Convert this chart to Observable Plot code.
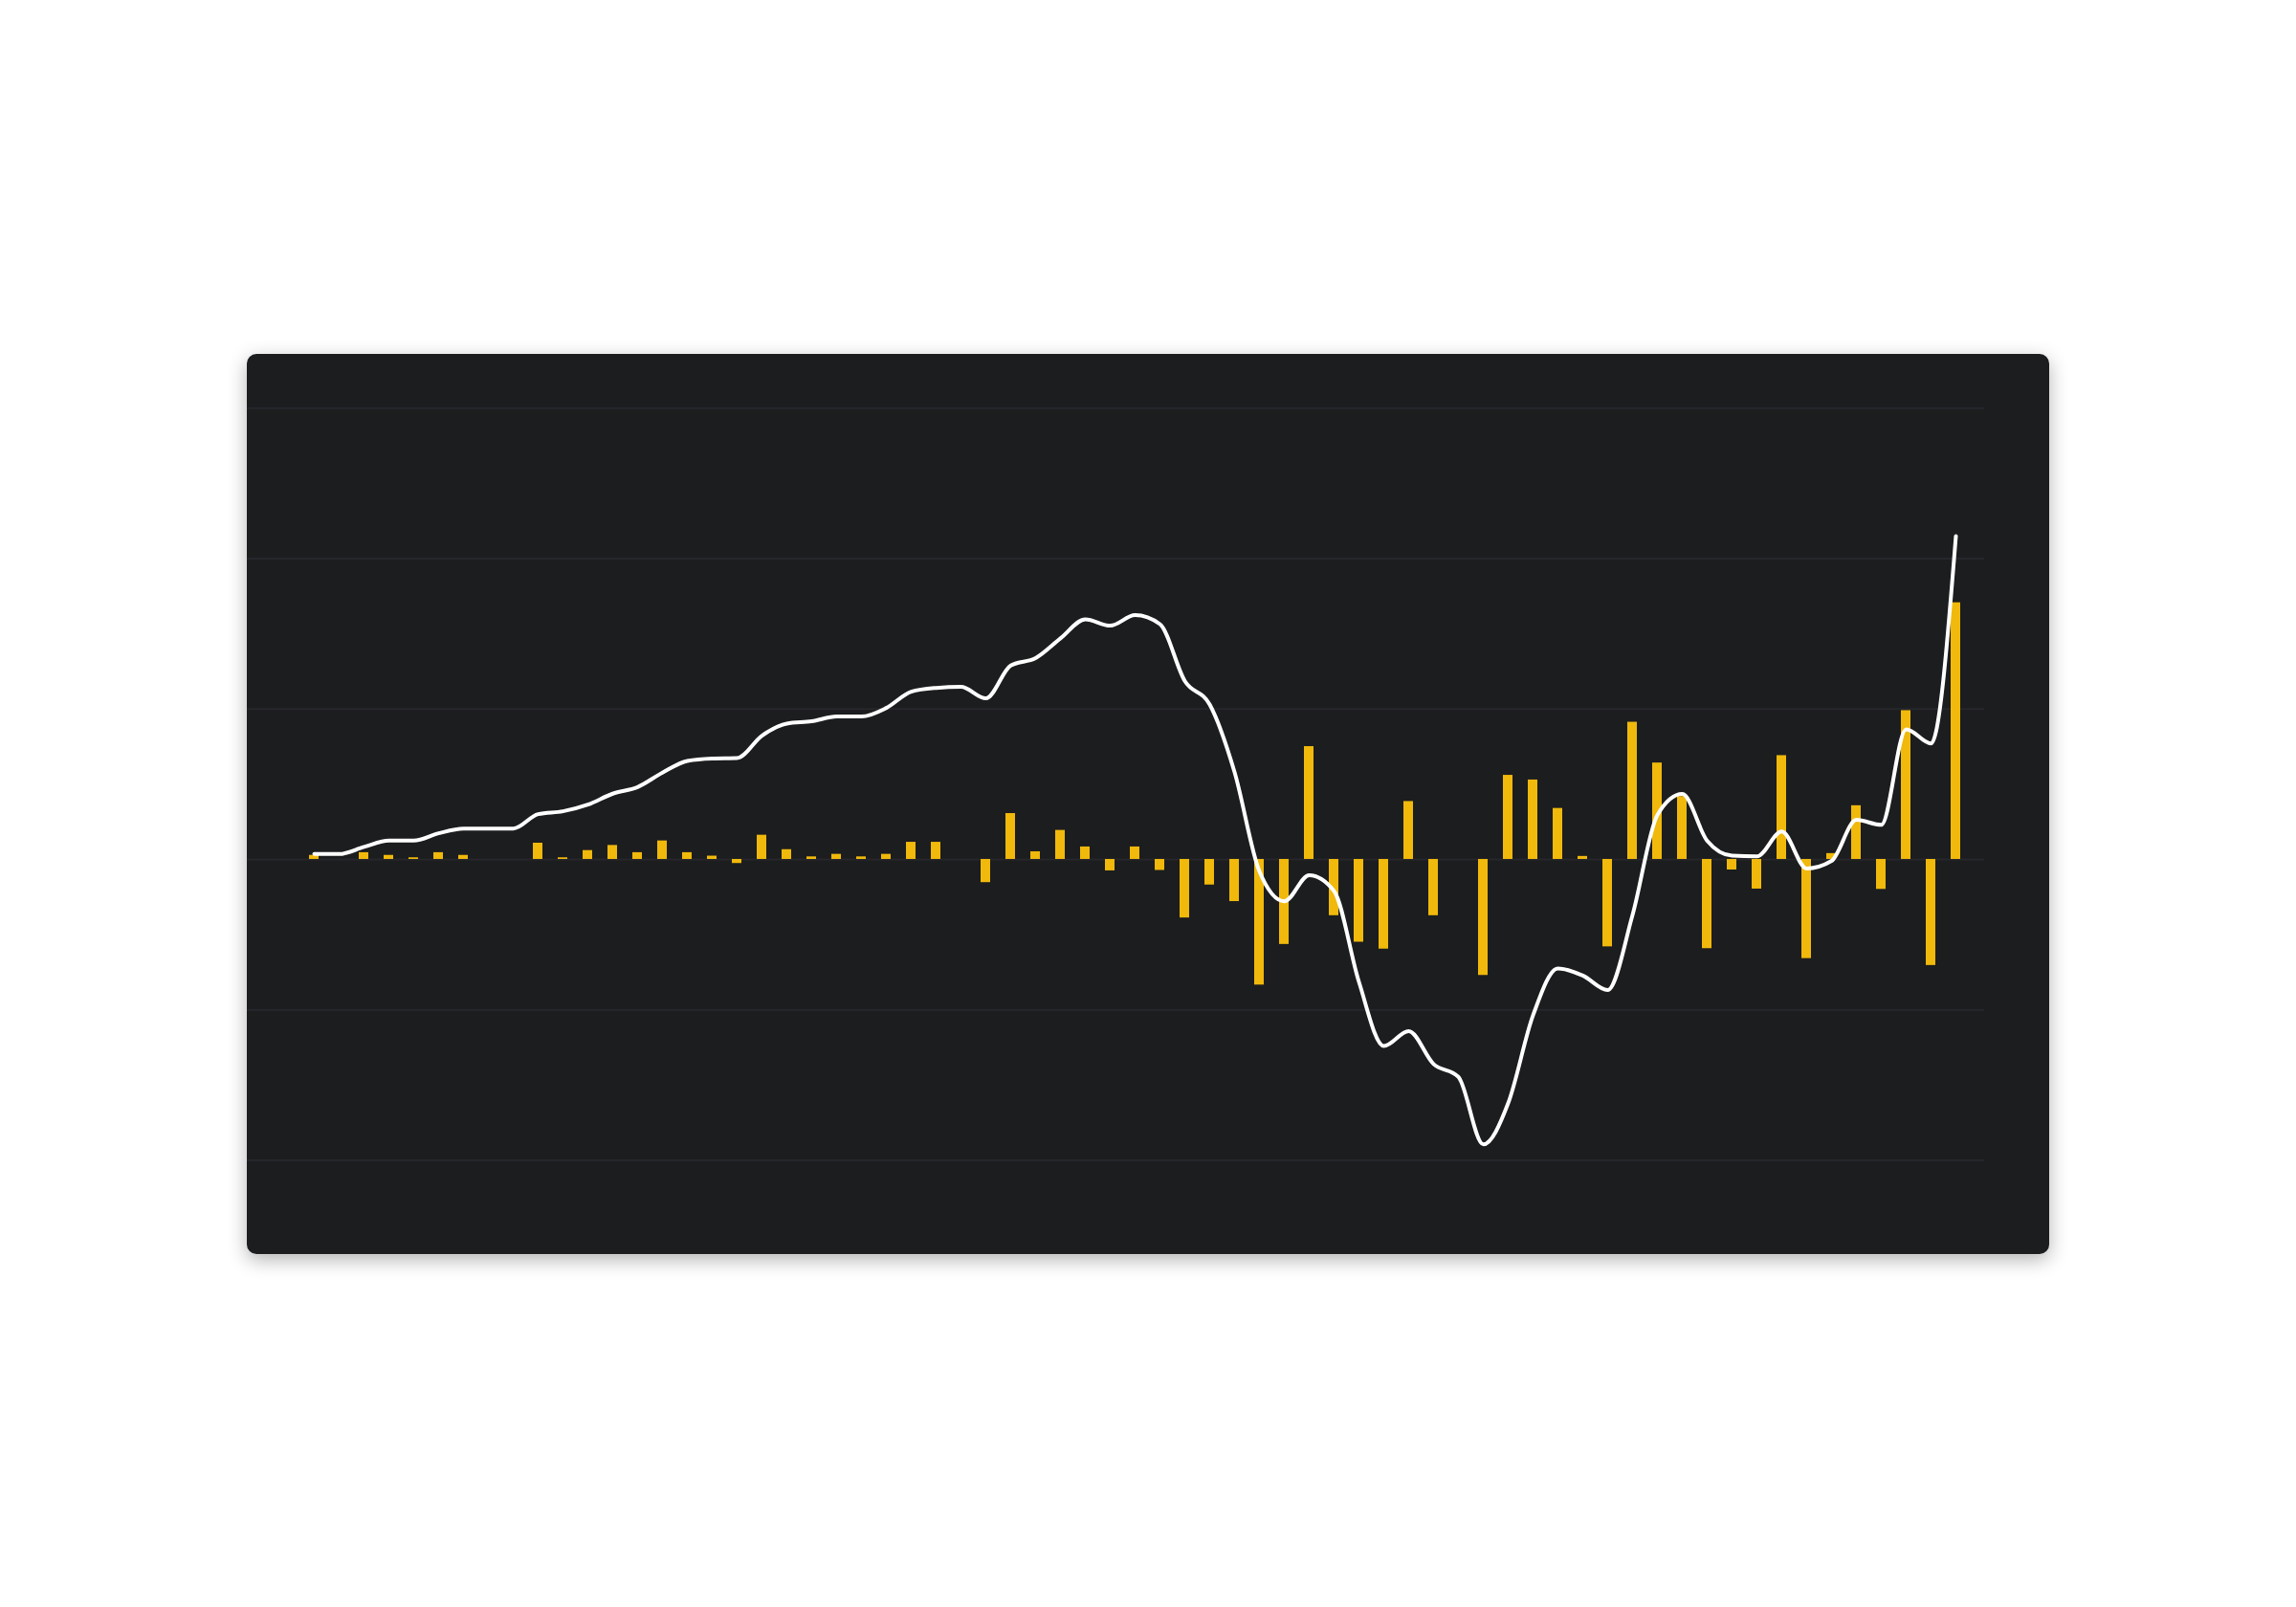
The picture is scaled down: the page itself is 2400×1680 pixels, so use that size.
<!DOCTYPE html>
<html>
<head>
<meta charset="utf-8">
<script src="https://cdn.jsdelivr.net/npm/d3@7"></script>
<script src="https://cdn.jsdelivr.net/npm/@observablehq/plot@0.6"></script>
<style>
  html, body { margin: 0; padding: 0; background: #ffffff; }
  body { width: 100vw; height: 100vh; display: flex; align-items: center; justify-content: center; }
  #chart svg { display: block; }
</style>
</head>
<body>
<div id="chart"></div>
<script>
// Day index (categories)
const days = d3.range(1, 68);

// Daily values (bars)
const daily = [
  2.7, 0, 4.5, 2.7, 1.1, 4.5, 2.7, 0, 0, 10.8,
  1.1, 5.9, 9.3, 4.5, 12.3, 4.5, 2.2, -2.7, 16.1, 6.5,
  1.7, 3.4, 1.7, 3.4, 11.4, 11.4, 0, -15.4, 30.5, 5.1,
  19.3, 8.3, -7.6, 8.3, -7.3, -38.9, -17.0, -28.0, -83.5, -56.5,
  75.0, -37.4, -55.0, -59.6, 38.5, -37.4, 0, -77.1, 55.9, 52.8,
  33.9, 2.0, -58.1, 91.2, 64.1, 41.8, -59.3, -7.0, -19.7, 69.0,
  -65.9, 3.9, 35.7, -19.9, 98.9, -70.5, 170.6
];

// Cumulative values (line)
const cumulative = [
  3.6, 3.6, 8.3, 12.5, 12.5, 17.4, 20.5, 20.5, 20.5, 30.1,
  32.0, 36.4, 43.7, 48.1, 57.7, 65.5, 67.1, 67.4, 82.3, 90.3,
  91.8, 95.0, 95.0, 100.7, 111.5, 114.0, 114.7, 107.1, 128.9, 133.8,
  146.9, 159.6, 155.4, 162.4, 156.4, 118.6, 103.0, 58.0, -8.0, -27.8,
  -10.5, -21.0, -81.4, -124.0, -114.1, -136.0, -144.6, -189.4, -162.0, -103.6,
  -72.5, -77.2, -86.8, -36.9, 29.6, 43.5, 12.4, 2.5, 2.0, 18.6,
  -6.0, -1.0, 26.3, 23.0, 86.5, 77.1, 214.9
];

// Horizontal grid values
const gridTicks = [-200, -100, 0, 100, 200, 300];

const rows = days.map((d, i) => ({day: d, value: daily[i], total: cumulative[i]}));
const halfBar = 0.1923;

const chart = Plot.plot({
  width: 1884,
  height: 941,
  marginTop: 0,
  marginBottom: 0,
  marginLeft: 0,
  marginRight: 68,
  style: {
    background: "#1c1d1f",
    borderRadius: "10px",
    boxShadow: "0 6px 20px rgba(0,0,0,0.30)",
    overflow: "hidden"
  },
  x: {type: "linear", domain: [-1.692, 68.154], axis: null},
  y: {domain: [-262.6, 335.7], axis: null},
  marks: [
    Plot.ruleY(gridTicks, {stroke: "#26272c", strokeWidth: 2}),
    Plot.rect(rows, {
      x1: d => d.day - halfBar,
      x2: d => d.day + halfBar,
      y1: 0,
      y2: "value",
      fill: "#f0b90b"
    }),
    Plot.line(rows, {
      x: "day",
      y: "total",
      stroke: "#ffffff",
      strokeWidth: 4,
      curve: "monotone-x",
      strokeLinejoin: "round",
      strokeLinecap: "round"
    })
  ]
});

document.getElementById("chart").appendChild(chart);
</script>
</body>
</html>
